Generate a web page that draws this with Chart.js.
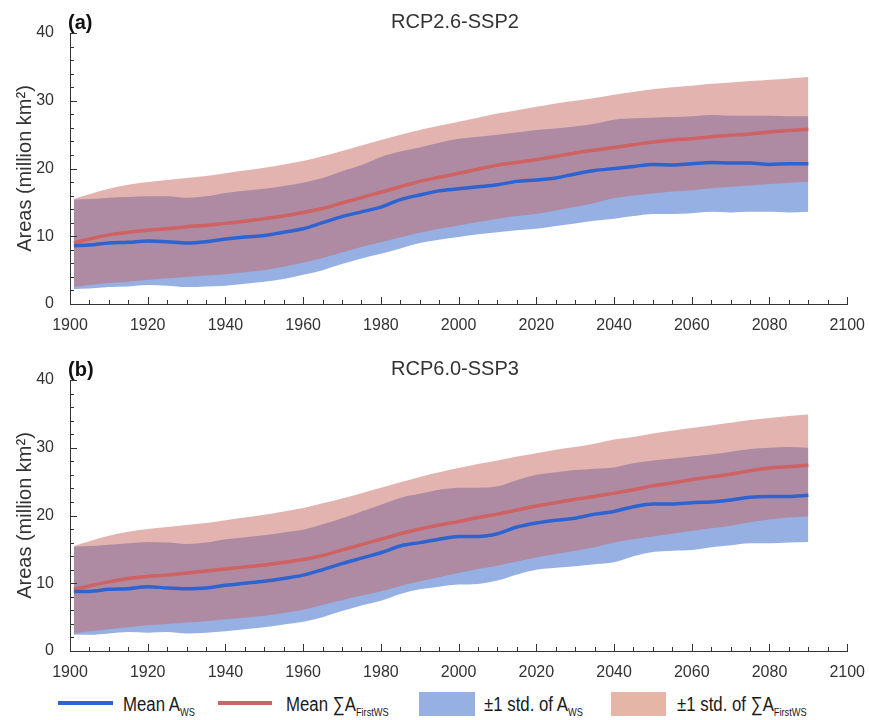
<!DOCTYPE html>
<html>
<head>
<meta charset="utf-8">
<script src="https://cdn.jsdelivr.net/npm/chart.js@4.4.1/dist/chart.umd.min.js"></script>
<style>
  body { margin: 0; background: #fff; }
  #wrap { position: relative; width: 869px; height: 720px; font-family: 'Liberation Sans', Arial, sans-serif; }
  #wrap canvas { position: absolute; left: 0; }
  .sw { position: absolute; }
  .lt { position: absolute; top: 692px; font-family: 'Liberation Sans', Arial, sans-serif;
        font-size: 20px; line-height: 24px; color: #1a1a1a; white-space: nowrap;
        transform: scaleX(0.84); transform-origin: 0 50%; }
  .lt sub { font-size: 11px; vertical-align: baseline; position: relative; top: 5px; }
</style>
</head>
<body>
<div id="wrap">
  <canvas id="chartA" width="869" height="345" style="top:0"></canvas>
  <canvas id="chartB" width="869" height="345" style="top:345px"></canvas>

  <div class="sw" style="left:58px;top:701px;width:55px;height:4px;background:#2d64d2"></div>
  <div class="lt" style="left:123px">Mean A<sub>WS</sub></div>
  <div class="sw" style="left:218px;top:701px;width:54px;height:4px;background:#cf6262"></div>
  <div class="lt" style="left:286px">Mean ∑A<sub>FirstWS</sub></div>
  <div class="sw" style="left:419px;top:692px;width:56px;height:24px;background:#97b0e3"></div>
  <div class="lt" style="left:484px">±1 std. of A<sub>WS</sub></div>
  <div class="sw" style="left:611px;top:692px;width:55px;height:24px;background:#e5b5a6"></div>
  <div class="lt" style="left:677px">±1 std. of ∑A<sub>FirstWS</sub></div>
</div>

<script>
// years of the sampled points
const years = [1901, 1905, 1910, 1915, 1920, 1925, 1930, 1935, 1940, 1945,
               1950, 1955, 1960, 1965, 1970, 1975, 1980, 1985, 1990, 1995,
               2000, 2005, 2010, 2015, 2020, 2025, 2030, 2035, 2040, 2045,
               2050, 2055, 2060, 2065, 2070, 2075, 2080, 2085, 2090];

// (a) RCP2.6-SSP2
const aBlueMean = [8.6, 8.7, 9.0, 9.1, 9.3, 9.2, 9.0, 9.2, 9.6, 9.9,
                   10.1, 10.6, 11.1, 12.0, 12.9, 13.6, 14.3, 15.4, 16.1, 16.7,
                   17.0, 17.3, 17.6, 18.1, 18.3, 18.6, 19.2, 19.7, 20.0, 20.3,
                   20.6, 20.5, 20.7, 20.9, 20.8, 20.8, 20.6, 20.7, 20.7];
const aRedMean  = [9.0, 9.6, 10.2, 10.6, 10.9, 11.1, 11.4, 11.6, 11.9, 12.2,
                   12.6, 13.0, 13.5, 14.1, 14.9, 15.7, 16.5, 17.3, 18.1, 18.7,
                   19.3, 19.9, 20.5, 20.9, 21.3, 21.8, 22.3, 22.7, 23.1, 23.5,
                   23.9, 24.2, 24.4, 24.7, 24.9, 25.1, 25.4, 25.6, 25.8];
const aBlueLo   = [2.2, 2.3, 2.5, 2.6, 2.8, 2.7, 2.5, 2.6, 2.7, 3.0,
                   3.3, 3.7, 4.3, 5.0, 5.9, 6.7, 7.4, 8.2, 9.0, 9.5,
                   9.9, 10.3, 10.6, 10.9, 11.1, 11.5, 11.9, 12.3, 12.6, 13.0,
                   13.3, 13.3, 13.4, 13.6, 13.5, 13.6, 13.6, 13.5, 13.6];
const aBlueHi   = [15.4, 15.5, 15.7, 15.8, 15.9, 15.9, 15.7, 15.9, 16.4, 16.7,
                   17.0, 17.4, 17.9, 18.6, 19.6, 20.5, 21.7, 22.5, 23.1, 23.8,
                   24.4, 24.7, 25.0, 25.3, 25.7, 25.9, 26.2, 26.6, 27.2, 27.4,
                   27.5, 27.6, 27.7, 27.9, 27.8, 27.8, 27.8, 27.7, 27.7];
const aRedLo    = [2.5, 2.8, 3.1, 3.3, 3.55, 3.8, 4.0, 4.2, 4.4, 4.7,
                   5.0, 5.5, 6.1, 6.8, 7.6, 8.4, 9.1, 9.8, 10.5, 11.1,
                   11.6, 12.1, 12.6, 13.0, 13.3, 13.8, 14.3, 14.9, 15.6, 16.0,
                   16.3, 16.6, 16.8, 17.1, 17.3, 17.5, 17.7, 17.9, 18.0];
const aRedHi    = [15.5, 16.2, 17.0, 17.6, 18.0, 18.3, 18.6, 18.9, 19.3, 19.7,
                   20.1, 20.6, 21.1, 21.8, 22.6, 23.4, 24.2, 25.0, 25.7, 26.3,
                   26.9, 27.5, 28.1, 28.6, 29.1, 29.6, 30.0, 30.4, 30.9, 31.3,
                   31.7, 32.0, 32.2, 32.5, 32.7, 32.9, 33.1, 33.3, 33.5];

// (b) RCP6.0-SSP3
const bBlueMean = [8.8, 8.8, 9.1, 9.2, 9.5, 9.3, 9.2, 9.3, 9.7, 10.0,
                   10.3, 10.7, 11.2, 12.0, 12.9, 13.7, 14.5, 15.5, 16.0, 16.5,
                   16.9, 16.9, 17.3, 18.3, 18.9, 19.3, 19.6, 20.2, 20.6, 21.3,
                   21.7, 21.7, 21.9, 22.0, 22.3, 22.7, 22.8, 22.8, 23.0];
const bRedMean  = [9.1, 9.6, 10.2, 10.7, 11.0, 11.2, 11.5, 11.8, 12.1, 12.4,
                   12.7, 13.1, 13.5, 14.1, 14.9, 15.7, 16.5, 17.3, 18.0, 18.6,
                   19.1, 19.7, 20.2, 20.8, 21.4, 21.9, 22.4, 22.8, 23.3, 23.8,
                   24.4, 24.8, 25.3, 25.7, 26.1, 26.6, 27.0, 27.2, 27.4];
const bBlueLo   = [2.4, 2.4, 2.6, 2.8, 2.7, 2.8, 2.6, 2.7, 2.9, 3.2,
                   3.5, 3.9, 4.3, 5.0, 5.9, 6.7, 7.4, 8.4, 9.1, 9.5,
                   9.8, 9.9, 10.4, 11.3, 12.0, 12.3, 12.5, 12.8, 13.1, 14.0,
                   14.6, 14.8, 14.9, 15.3, 15.6, 15.9, 15.9, 16.0, 16.1];
const bBlueHi   = [15.4, 15.5, 15.7, 15.9, 16.1, 16.0, 15.8, 16.0, 16.5, 16.8,
                   17.1, 17.5, 17.9, 18.7, 19.6, 20.6, 21.6, 22.6, 23.2, 23.8,
                   24.1, 24.1, 24.3, 25.2, 26.0, 26.4, 26.7, 26.9, 27.1, 27.7,
                   28.1, 28.4, 28.7, 29.0, 29.4, 29.8, 30.0, 30.1, 30.0];
const bRedLo    = [2.6, 2.9, 3.2, 3.5, 3.8, 4.0, 4.2, 4.4, 4.7, 4.9,
                   5.2, 5.6, 6.1, 6.8, 7.5, 8.2, 8.8, 9.6, 10.3, 10.9,
                   11.5, 12.1, 12.6, 13.2, 13.8, 14.3, 14.8, 15.3, 16.0, 16.5,
                   16.9, 17.3, 17.7, 18.1, 18.5, 19.0, 19.4, 19.7, 19.9];
const bRedHi    = [15.5, 16.2, 17.0, 17.6, 18.0, 18.3, 18.6, 18.9, 19.3, 19.7,
                   20.1, 20.6, 21.1, 21.8, 22.5, 23.3, 24.1, 24.9, 25.7, 26.4,
                   27.0, 27.6, 28.1, 28.7, 29.2, 29.7, 30.1, 30.6, 31.2, 31.6,
                   32.1, 32.5, 32.9, 33.3, 33.7, 34.1, 34.4, 34.7, 34.9];

const BLUE = '#2d64d2';
const RED = '#cf6262';
const BLUE_BAND = 'rgba(45, 97, 201, 0.5)';
const RED_BAND = 'rgba(199, 104, 98, 0.5)';
const AXIS = '#333333';

const pts = vals => vals.map((v, i) => ({ x: years[i], y: v }));

// title, panel tag and inward ticks
const panelDeco = {
  id: 'panelDeco',
  afterDraw(chart, args, opts) {
    const { ctx, chartArea, scales } = chart;
    ctx.save();
    ctx.strokeStyle = AXIS;
    ctx.lineWidth = 1;
    ctx.beginPath();
    for (let v = 0; v <= 40; v += 2) {
      const y = Math.round(scales.y.getPixelForValue(v)) + 0.5;
      const len = v % 10 === 0 ? 7 : 4;
      ctx.moveTo(chartArea.left, y);
      ctx.lineTo(chartArea.left + len, y);
    }
    for (let v = 1900; v <= 2100; v += 5) {
      const x = Math.round(scales.x.getPixelForValue(v)) + 0.5;
      const len = v % 20 === 0 ? 7 : 4;
      ctx.moveTo(x, chartArea.bottom);
      ctx.lineTo(x, chartArea.bottom - len);
    }
    ctx.stroke();

    ctx.fillStyle = '#111';
    ctx.font = 'bold 20px "Liberation Sans", Arial, sans-serif';
    ctx.textAlign = 'left';
    ctx.textBaseline = 'alphabetic';
    ctx.fillText(opts.tag, 68, chartArea.top - 4);

    ctx.fillStyle = AXIS;
    ctx.font = '20px "Liberation Sans", Arial, sans-serif';
    ctx.textAlign = 'center';
    ctx.fillText(opts.title, 455, chartArea.top - 5);
    ctx.restore();
  }
};

function makeChart(id, tag, title, d, topPad, xHeight) {
  const line = (data, color) => ({
    data: pts(data), borderColor: color, borderWidth: 3.5, pointRadius: 0,
    fill: false, order: 1, cubicInterpolationMode: 'monotone'
  });
  const edge = (data, order, fill, color) => ({
    data: pts(data), borderWidth: 0, borderColor: 'rgba(0,0,0,0)', pointRadius: 0,
    fill: fill, backgroundColor: color, order: order, cubicInterpolationMode: 'monotone'
  });

  return new Chart(document.getElementById(id), {
    type: 'line',
    data: {
      datasets: [
        edge(d.blueLo, 4, false, BLUE_BAND),
        edge(d.blueHi, 4, { target: 0 }, BLUE_BAND),
        edge(d.redLo, 3, false, RED_BAND),
        edge(d.redHi, 3, { target: 2 }, RED_BAND),
        line(d.blueMean, BLUE),
        line(d.redMean, RED)
      ]
    },
    options: {
      responsive: false,
      animation: false,
      layout: { padding: { top: topPad, right: 18, left: 0, bottom: 0 } },
      plugins: {
        legend: { display: false },
        tooltip: { enabled: false },
        panelDeco: { tag: tag, title: title }
      },
      scales: {
        x: {
          type: 'linear', min: 1900, max: 2100,
          grid: { display: false },
          border: { display: true, color: AXIS, width: 1 },
          ticks: { stepSize: 20, padding: 4, color: AXIS, maxRotation: 0,
                   font: { size: 16, family: '"Liberation Sans", Arial, sans-serif' },
                   callback: v => String(v) },
          afterFit: s => { s.height = xHeight; }
        },
        y: {
          min: 0, max: 40,
          grid: { display: false },
          border: { display: true, color: AXIS, width: 1 },
          ticks: { stepSize: 10, padding: 8, color: AXIS,
                   font: { size: 16, family: '"Liberation Sans", Arial, sans-serif' } },
          title: { display: true, text: 'Areas (million km²)', color: AXIS,
                   padding: { top: 13, bottom: 0 },
                   font: { size: 20, family: '"Liberation Sans", Arial, sans-serif' } },
          afterFit: s => { s.width = 70; }
        }
      }
    },
    plugins: [panelDeco]
  });
}

makeChart('chartA', '(a)', 'RCP2.6-SSP2', {
  blueMean: aBlueMean, redMean: aRedMean, blueLo: aBlueLo,
  blueHi: aBlueHi, redLo: aRedLo, redHi: aRedHi
}, 33, 41);

makeChart('chartB', '(b)', 'RCP6.0-SSP3', {
  blueMean: bBlueMean, redMean: bRedMean, blueLo: bBlueLo,
  blueHi: bBlueHi, redLo: bRedLo, redHi: bRedHi
}, 35, 39);
</script>
</body>
</html>
